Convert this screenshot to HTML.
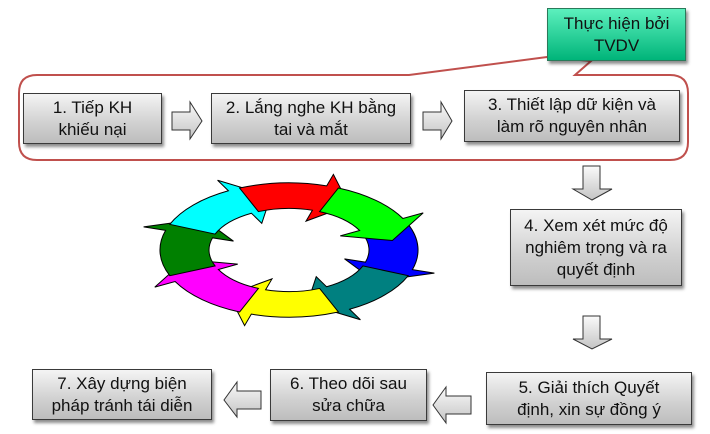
<!DOCTYPE html>
<html><head><meta charset="utf-8"><style>
body{margin:0;width:710px;height:434px;background:#fff;position:relative;overflow:hidden;font-family:"Liberation Sans",Arial,sans-serif;}
.b{position:absolute;box-sizing:border-box;border:1px solid #3a3a3a;background:linear-gradient(#f4f4f4,#d0d0d0 60%,#bdbdbd);box-shadow:2px 3px 3px rgba(0,0,0,.45);display:flex;align-items:center;justify-content:center;text-align:center;font-size:17px;line-height:22px;color:#111;}
svg{position:absolute;left:0;top:0}
</style></head><body>
<svg width="710" height="434">
<defs><linearGradient id="g" x1="0" y1="0" x2="0" y2="1"><stop offset="0" stop-color="#fafafa"/><stop offset="1" stop-color="#c4c4c4"/></linearGradient>
<path id="seg" d="M119.2,-49.4 A129 129 0 0 1 123.4,37.7 L145.4,44.4 L86.0,60.2 L55.5,17.0 L76.5,23.4 A80 80 0 0 0 73.9,-30.6 Z" stroke="#000" vector-effect="non-scaling-stroke"/></defs>
<path d="M37,75 L409,75 L547,57 L591,61 L575,75 L670,75 Q688,75 688,93 L688,142 Q688,160 670,160 L37,160 Q19,160 19,142 L19,93 Q19,75 37,75 Z" fill="none" stroke="#c0504d" stroke-width="2"/>
<path d="M172,112 L190,112 L190,102 L202,121 L190,139 L190,130 L172,130 Z" fill="url(#g)" stroke="#333"/>
<path d="M423,112 L441,112 L441,102 L452,121 L441,139 L441,130 L423,130 Z" fill="url(#g)" stroke="#333"/>
<path d="M583,166 L600,166 L600,189 L612,189 L592,200 L573,189 L583,189 Z" fill="url(#g)" stroke="#333"/>
<path d="M583,316 L600,316 L600,339 L612,339 L592,349 L573,339 L583,339 Z" fill="url(#g)" stroke="#333"/>
<path d="M471,396 L446,396 L446,387 L433,405 L446,423 L446,414 L471,414 Z" fill="url(#g)" stroke="#333"/>
<path d="M261,391 L237,391 L237,382 L224,400 L237,417 L237,409 L261,409 Z" fill="url(#g)" stroke="#333"/>
<g transform="translate(289,250) scale(1,0.52)">
<use href="#seg" fill="#0000ff"/>
<use href="#seg" fill="#008080" transform="rotate(45)"/>
<use href="#seg" fill="#ffff00" transform="rotate(90)"/>
<use href="#seg" fill="#ff00ff" transform="rotate(135)"/>
<use href="#seg" fill="#008000" transform="rotate(180)"/>
<use href="#seg" fill="#00ffff" transform="rotate(225)"/>
<use href="#seg" fill="#ff0000" transform="rotate(270)"/>
<use href="#seg" fill="#00ff00" transform="rotate(315)"/>
</g>
</svg>
<div class="b" style="left:547px;top:8px;width:139px;height:53px;background:linear-gradient(#5cf0bd,#00b479);border-color:#2a7a5a">Thực hiện bởi<br>TVDV</div>
<div class="b" style="left:23px;top:93px;width:139px;height:51px">1. Tiếp KH<br>khiếu nại</div>
<div class="b" style="left:211px;top:93px;width:200px;height:51px">2. Lắng nghe KH bằng<br>tai và mắt</div>
<div class="b" style="left:464px;top:90px;width:216px;height:52px">3. Thiết lập dữ kiện và<br>làm rõ nguyên nhân</div>
<div class="b" style="left:510px;top:209px;width:172px;height:77px">4. Xem xét mức độ<br>nghiêm trọng và ra<br>quyết định</div>
<div class="b" style="left:486px;top:372px;width:206px;height:53px">5. Giải thích Quyết<br>định, xin sự đồng ý</div>
<div class="b" style="left:270px;top:369px;width:157px;height:52px">6. Theo dõi sau<br>sửa chữa</div>
<div class="b" style="left:32px;top:369px;width:180px;height:51px">7. Xây dựng biện<br>pháp tránh tái diễn</div>
</body></html>
